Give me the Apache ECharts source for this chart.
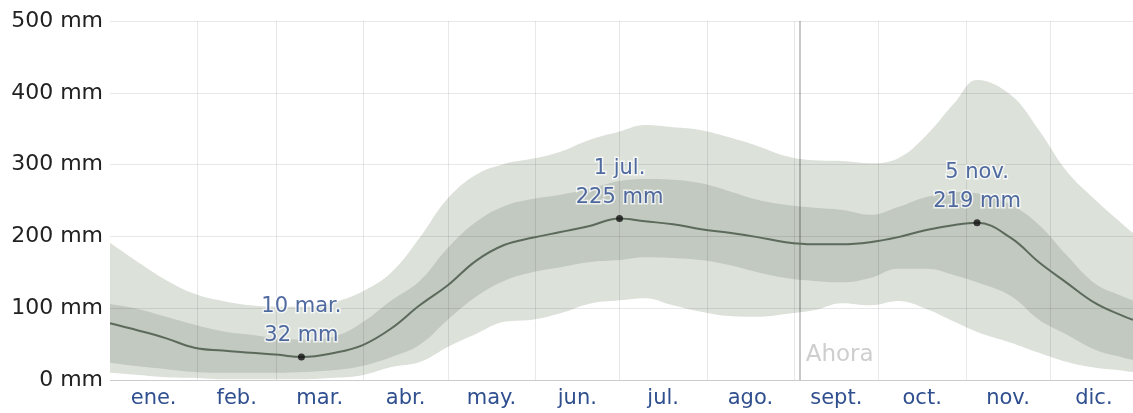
<!DOCTYPE html>
<html><head><meta charset="utf-8">
<script src="https://cdn.jsdelivr.net/npm/echarts@6/dist/echarts.min.js"></script>
<style>html,body{margin:0;padding:0;background:#fff}#c{width:1133px;height:413px}</style>
</head><body><div id="c"></div>
<script>
// Day of year (0 = 1 Jan)
const days = [0,10,20,30,40,50,60,68,80,90,100,110,120,130,140,150,160,170,181,190,200,210,220,230,240,250,260,270,280,290,300,308,320,330,340,350,360,363.4];
// Percentiles of monthly rainfall (mm)
const p90 = [191,164,139,120,110,104,102,102,109,124,150,198,253,286,301,308,318,334,346,355,352,348,338,326,312,306,305,302,309,341,386,418,397,348,290,251,216,205];
const p75 = [106,99,88,77,68,63,58,56,61,81,111,138,184,220,242,252,258,266,277,280,279,274,263,251,244,240,237,230,241,255,262,260,244,216,173,134,116,111];
const median = [79,69,58,45,41,38,35,32,38,49,72,104,132,166,188,198,206,214,225,221,217,210,205,199,192,189,189,192,199,209,216,219,198,164,135,107,89,84];
const p25 = [24,19,15,11,10,10,10,11,14,20,32,49,84,116,138,150,157,164,167,171,170,167,160,150,142,138,136,142,155,155,146,136,117,84,63,42,31,28];
const p10 = [10,7,4,3,1,1,1,1,3,7,18,25,46,64,81,84,93,106,111,114,104,95,89,88,92,97,107,104,110,99,81,67,52,38,25,17,13,11];

const monthNames = ['ene.','feb.','mar.','abr.','may.','jun.','jul.','ago.','sept.','oct.','nov.','dic.'];
const monthStarts = [31,59,90,120,151,181,212,243,273,304,334];
const monthMids = [15.5,45,74.5,105,135.5,166,196.5,227.5,258,288.5,319,349.5];
const yTicks = [0,100,200,300,400,500];

const highlightDays = [68,181,308];
const highlightValues = [32,225,219];
const highlightDates = ['10 mar.','1 jul.','5 nov.'];
const nowDay = 245;
const nowLabel = 'Ahora';

const LIGHT = '#dce1da', DARK = '#c2c9c0', LINE = '#5c6a5b';
const FONT = 'DejaVu Sans';

const pairs = arr => days.map((d,i)=>[d, arr[i]]);

function band(name, arr, color, z){
  return {type:'line', name, data:pairs(arr), smooth:0.4, symbol:'none', silent:true, z,
    lineStyle:{width:0}, areaStyle:{color, opacity:1}};
}

const option = {
  animation:false,
  grid:{left:110,right:0,top:21,bottom:33},
  xAxis:{type:'value',min:0,max:363.4,
    axisLine:{show:false},
    axisTick:{show:false},
    splitLine:{show:false},
    axisLabel:{customValues:monthMids,
      formatter:v=>{let k=0,b=1e9;monthMids.forEach((m,i)=>{if(Math.abs(m-v)<b){b=Math.abs(m-v);k=i;}});return monthNames[k];},
      color:'#2f4f8f',fontFamily:FONT,fontSize:21,margin:8}},
  yAxis:{type:'value',min:0,max:500,interval:100,
    axisLine:{show:false},axisTick:{show:false},
    splitLine:{show:false},
    axisLabel:{formatter:v=>v+' mm',color:'#222',fontFamily:FONT,fontSize:22,margin:7}},
  series:[
    band('p90', p90, LIGHT, 1),
    band('p75', p75, DARK, 2),
    band('p25', p25, LIGHT, 3),
    band('p10', p10, '#ffffff', 4),
    {type:'line',name:'grid',data:[],z:6,silent:true,
      markLine:{silent:true,symbol:'none',label:{show:false},animation:false,
        lineStyle:{color:'rgba(0,0,0,0.09)',width:1,type:'solid'},
        data:monthStarts.map(d=>({xAxis:d})).concat(yTicks.slice(1).map(v=>({yAxis:v})))
          .concat([{yAxis:0,lineStyle:{color:'rgba(0,0,0,0.2)',width:1}}])}},
    {type:'line',name:'median',data:pairs(median),smooth:0.4,symbol:'none',z:7,silent:true,
      lineStyle:{color:LINE,width:2},
      markLine:{silent:true,symbol:'none',
        lineStyle:{color:'rgba(0,0,0,0.22)',width:2,type:'solid'},
        label:{show:false},
        data:[{xAxis:nowDay}]}},
    {type:'scatter',name:'now',data:[[nowDay,35]],symbolSize:0,z:8,silent:true,
      label:{show:true,position:'right',distance:6,formatter:nowLabel,color:'#c2c2c2',fontFamily:FONT,fontSize:23}},
    {type:'scatter',name:'highlights',z:10,silent:true,
      data:highlightDays.map((d,i)=>[d,highlightValues[i]]),
      symbolSize:7,itemStyle:{color:'#111'},
      label:{show:true,position:'top',distance:3,
        formatter:p=>highlightDates[p.dataIndex]+'\n'+highlightValues[p.dataIndex]+' mm',
        color:'#264689',fontFamily:FONT,fontSize:21,lineHeight:29,align:'center',
        textBorderColor:'rgba(255,255,255,0.9)',textBorderWidth:3}}
  ]
};
const chart = echarts.init(document.getElementById('c'),null,{renderer:'canvas'});
chart.setOption(option);
</script></body></html>
